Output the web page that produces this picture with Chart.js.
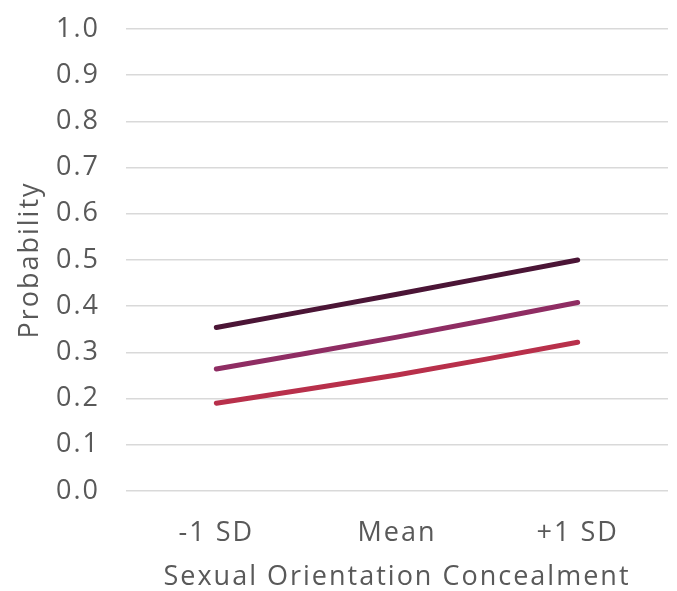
<!DOCTYPE html>
<html lang="en">
<head>
    <meta charset="UTF-8">
    <title>Probability by Sexual Orientation Concealment</title>
    <script src="https://cdn.jsdelivr.net/npm/chart.js"></script>
    <style>
        html, body {
            margin: 0;
            padding: 0;
            background: #ffffff;
        }
        .chart-container {
            width: 677px;
            height: 591px;
        }
    </style>
</head>
<body>
    <div class="chart-container">
        <canvas id="chart"></canvas>
    </div>

    <script>
        const categories = ['-1 SD', 'Mean', '+1 SD'];
        const topSeries = [0.354, 0.426, 0.500];
        const middleSeries = [0.264, 0.333, 0.408];
        const bottomSeries = [0.190, 0.251, 0.322];
        const yTicks = [0.0, 0.1, 0.2, 0.3, 0.4, 0.5, 0.6, 0.7, 0.8, 0.9, 1.0];

        const textColor = '#595959';
        const fontFamily = "'Open Sans', 'Lato', sans-serif";
        const textFont = { family: fontFamily, size: 27, lineHeight: 1.2 };

        function lineSet(values, color) {
            return {
                data: values,
                borderColor: color,
                backgroundColor: color,
                borderWidth: 5,
                borderCapStyle: 'round',
                pointRadius: 0,
                tension: 0.25,
                fill: false
            };
        }

        // the original font runs wider than anything installed, so space the letters out a bit
        const spacing = {
            id: 'spacing',
            beforeLayout: (chart) => { chart.ctx.letterSpacing = '2px'; },
            beforeDraw: (chart) => { chart.ctx.letterSpacing = '2px'; }
        };

        new Chart(document.getElementById('chart').getContext('2d'), {
            type: 'line',
            data: {
                labels: categories,
                datasets: [
                    lineSet(topSeries, '#4b1536'),
                    lineSet(middleSeries, '#8f2d63'),
                    lineSet(bottomSeries, '#b8304b')
                ]
            },
            options: {
                responsive: true,
                maintainAspectRatio: false,
                animation: false,
                layout: {
                    padding: { top: 29, right: 9, bottom: 0, left: 14 }
                },
                plugins: {
                    legend: { display: false },
                    tooltip: { enabled: false }
                },
                scales: {
                    x: {
                        offset: true,
                        afterFit: (axis) => {
                            axis.height = 100;
                        },
                        grid: { display: false, drawTicks: false },
                        border: { display: false },
                        ticks: {
                            color: textColor,
                            font: textFont,
                            padding: 26
                        },
                        title: {
                            display: true,
                            text: 'Sexual Orientation Concealment',
                            color: textColor,
                            font: { family: fontFamily, size: 27, lineHeight: 1.0 },
                            padding: { top: 6, bottom: 0 }
                        }
                    },
                    y: {
                        min: 0,
                        max: 1,
                        afterBuildTicks: (axis) => {
                            axis.ticks = yTicks.map(v => ({ value: v }));
                        },
                        afterFit: (axis) => {
                            axis.width = 112;
                            axis.paddingTop = 0;
                            axis.paddingBottom = 0;
                        },
                        grid: {
                            color: '#d9d9d9',
                            lineWidth: 1.5,
                            drawTicks: false
                        },
                        border: { display: false },
                        ticks: {
                            color: textColor,
                            font: textFont,
                            padding: 26,
                            callback: (v) => Number(v).toFixed(1)
                        },
                        title: {
                            display: true,
                            text: 'Probability',
                            color: textColor,
                            font: textFont,
                            padding: { top: 0, bottom: 0 }
                        }
                    }
                }
            },
            plugins: [spacing]
        });
    </script>
</body>
</html>
